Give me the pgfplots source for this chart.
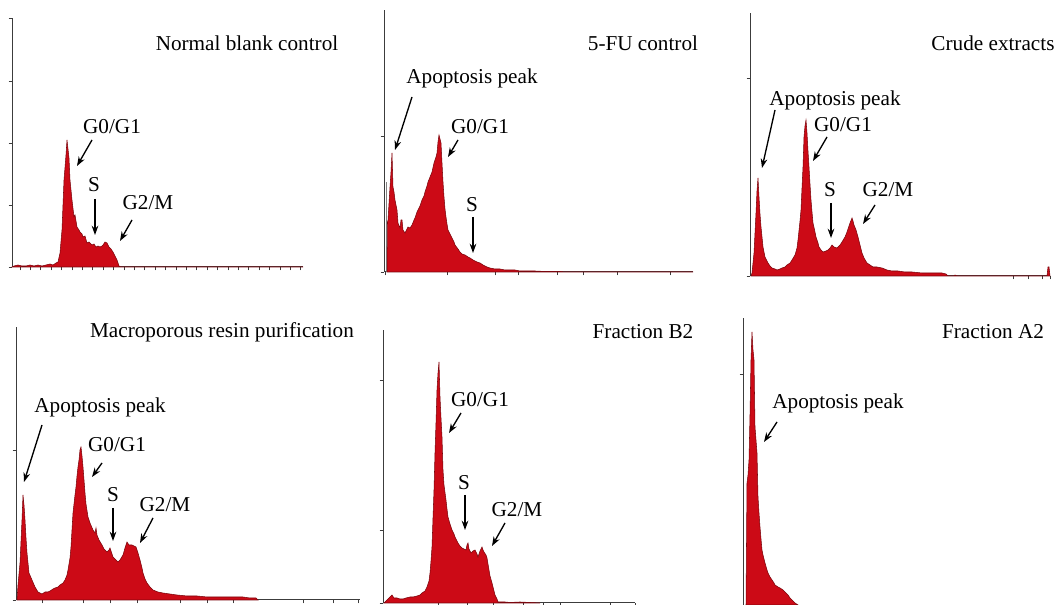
\documentclass[border=0pt]{standalone}
\usepackage{pgfplots}
\pgfplotsset{compat=1.18}
\usepackage{fontspec}
\setmainfont{Liberation Serif}
\usetikzlibrary{arrows.meta}
\definecolor{histred}{RGB}{204,10,22}
\definecolor{axgray}{RGB}{60,60,60}
\newcommand{\lab}{\fontsize{15.9}{18}\selectfont}
\pgfplotsset{
  flow/.style={
    x=0.75pt, y=0.75pt, anchor=south west,
    axis x line=bottom, axis y line=left,
    axis line style={-, draw=axgray, line width=0.75pt},
    xticklabels={}, yticklabels={},
    tick style={draw=axgray, line width=0.6pt},
    tick align=outside, major tick length=2.6pt,
    enlargelimits=false, clip=false, ymin=0,
  },
  hist/.style={fill=histred, draw=histred!60!black, line width=0.4pt, sharp plot},
}
\tikzset{arr/.style={-{Stealth[length=7pt,width=5pt]}, line width=1pt, black}}
\begin{document}
\begin{tikzpicture}[x=0.75pt,y=0.75pt]
% ---------- Panel 1: Normal blank control
\begin{axis}[flow, at={(12,338)}, xmin=12, xmax=303, ymax=249,
  ytick={0,62,124,186,249}, xtick={20,30.4,...,301}]
\addplot[hist] coordinates {(12,0)(14,1)(18,2)(22,1)(26,1)(30,2)(34,1)(38,2)(42,1)(46,2)(50,3)(53,2)(56,4)(58,5)(60,14)(62,37)(64,87)(66,112)(67,127)(68,118)(69,109)(70,87)(72,67)(74,50)(75,52)(77,40)(79,37)(80,35)(82,33)(83,30)(85,31)(87,24)(89,25)(92,22)(94,23)(96,20)(98,21)(100,20)(102,21)(103,22)(105,25)(107,24)(109,20)(111,18)(113,15)(115,11)(117,7)(119,1)(121,0)(303,0)} \closedcycle;
\node[font=\lab, anchor=east] at (axis cs:343,224) {Normal blank control};
\node[font=\lab] at (axis cs:112,140) {G0/G1};
\draw[arr] (axis cs:92,127) -- (axis cs:77,101);
\node[font=\lab] at (axis cs:94,82) {S};
\draw[arr] (axis cs:95,68) -- (axis cs:95,32);
\node[font=\lab] at (axis cs:148,64) {G2/M};
\draw[arr] (axis cs:132,47) -- (axis cs:120,26);
\end{axis}
% ---------- Panel 2: 5-FU control
\begin{axis}[flow, at={(384,333)}, xmin=384, xmax=693, ymax=262,
  ytick={0,136}, xtick={385,447,495,518,557,583,617,670}]
\addplot[draw=gray, line width=1.2pt] coordinates {(386.5,0)(386.5,90)};
\addplot[hist] coordinates {(387,0)(387.5,50)(388,52)(390,85)(391,100)(392,119)(393,85)(394,80)(395,72)(397,62)(398,49)(400,44)(401,52)(402,52)(403,42)(405,39)(406,41)(408,45)(410,44)(412,47)(414,52)(415,54)(417,60)(418,62)(420,66)(422,72)(424,76)(425,80)(427,86)(428,90)(430,95)(432,100)(434,109)(436,115)(437,119)(438,130)(439,137)(440,133)(441,129)(442,109)(443,90)(444,75)(445,63)(446,55)(447,48)(448,42)(450,38)(452,34)(454,30)(455,27)(458,23)(460,20)(462,18)(465,17)(468,15)(470,14)(473,12)(477,10)(480,9)(483,7)(487,5)(490,4)(495,3)(500,3)(505,2)(510,2)(515,2)(520,1)(527,1)(535,1)(545,0.5)(560,0.5)(565,0)(693,0)} \closedcycle;
\node[font=\lab] at (axis cs:643,229) {5-FU control};
\node[font=\lab] at (axis cs:472,194) {Apoptosis peak};
\draw[arr] (axis cs:412,175) -- (axis cs:395,122);
\node[font=\lab] at (axis cs:480,145) {G0/G1};
\draw[arr] (axis cs:458,132) -- (axis cs:448,115);
\node[font=\lab] at (axis cs:472,67) {S};
\draw[arr] (axis cs:473,55) -- (axis cs:473,19);
\end{axis}
% ---------- Panel 3: Crude extracts
\begin{axis}[flow, at={(750,329)}, xmin=750, xmax=1050, ymax=263,
  ytick={0,198}, xtick={1013,1028,1042,1050}]
\addplot[hist] coordinates {(751,0)(752,3)(754,23)(756,63)(757,85)(758,98)(759,79)(760,62)(761,49)(763,29)(765,19)(768,13)(770,10)(772,8)(775,7)(777,6)(780,7)(782,8)(785,9)(787,11)(790,13)(792,16)(795,21)(797,28)(798,36)(800,55)(801,66)(802,88)(803,109)(804,139)(805,150)(806,156)(807,143)(808,125)(809,109)(810,92)(811,76)(812,64)(813,53)(815,44)(816,39)(818,33)(819,29)(821,26)(823,24)(826,25)(828,26)(830,28)(832,31)(834,29)(837,28)(840,31)(842,34)(845,39)(847,44)(849,50)(850,53)(852,58)(853,55)(854,51)(856,46)(858,39)(860,31)(862,23)(864,18)(867,13)(870,11)(873,9)(877,9)(882,8)(887,6)(892,5)(898,5)(905,4)(912,4)(922,3)(932,3)(942,3)(946,2)(948,0)(954,0)(955,1)(957,0)(1047,0)(1048,9)(1049,9)(1050,0)} \closedcycle;
\node[font=\lab] at (axis cs:993,233) {Crude extracts};
\node[font=\lab] at (axis cs:835,176) {Apoptosis peak};
\draw[arr] (axis cs:775,166) -- (axis cs:762,108);
\node[font=\lab] at (axis cs:843,151) {G0/G1};
\draw[arr] (axis cs:827,139) -- (axis cs:813,115);
\node[font=\lab] at (axis cs:830,86) {S};
\draw[arr] (axis cs:831,73) -- (axis cs:831,38);
\node[font=\lab] at (axis cs:888,86) {G2/M};
\draw[arr] (axis cs:875,71) -- (axis cs:863,52);
\end{axis}
% ---------- Panel 4: Macroporous resin purification
\begin{axis}[flow, at={(16,5)}, xmin=16, xmax=360, ymax=273,
  ytick={0,150}, xtick={42,83,110,137,180,207,233,303,333,358}]
\addplot[hist] coordinates {(17,0)(18,15)(20,37)(22,80)(23,105)(24,95)(25,80)(26,62)(27,47)(29,27)(32,20)(35,13)(38,8)(40,7)(42,6)(45,8)(48,8)(50,9)(53,11)(55,12)(58,13)(60,15)(63,17)(65,20)(67,25)(68,30)(70,42)(71,53)(72,70)(73,87)(75,105)(76,113)(77,124)(78,133)(79,140)(80,150)(81,153)(82,144)(83,133)(84,120)(85,107)(86,96)(88,83)(90,77)(93,70)(95,67)(96,72)(97,65)(99,60)(102,55)(104,51)(107,48)(109,50)(110,52)(111,49)(113,43)(115,41)(118,38)(120,40)(123,45)(125,52)(127,58)(129,55)(132,55)(134,54)(136,53)(138,47)(140,40)(142,32)(143,27)(145,21)(147,17)(150,13)(153,10)(158,8)(163,7)(170,6)(177,5)(187,4)(197,4)(207,3)(217,3)(230,3)(243,3)(250,2)(256,2)(258,0)} \closedcycle;
\node[font=\lab] at (axis cs:222,268) {Macroporous resin purification};
\node[font=\lab] at (axis cs:100,193) {Apoptosis peak};
\draw[arr] (axis cs:42,175) -- (axis cs:24,118);
\node[font=\lab] at (axis cs:117,155) {G0/G1};
\draw[arr] (axis cs:102,137) -- (axis cs:92,123);
\node[font=\lab] at (axis cs:113,105) {S};
\draw[arr] (axis cs:113,92) -- (axis cs:113,59);
\node[font=\lab] at (axis cs:165,95) {G2/M};
\draw[arr] (axis cs:153,82) -- (axis cs:140,57);
\end{axis}
% ---------- Panel 5: Fraction B2
\begin{axis}[flow, at={(383,2)}, xmin=383, xmax=635, ymax=273,
  ytick={0,73,223}, xtick={438,467,493,523,543,560,610,635}]
\addplot[hist] coordinates {(384,0)(387,3)(390,6)(392,8)(394,5)(397,5)(400,4)(403,4)(406,5)(410,6)(413,6)(417,7)(420,8)(422,10)(425,12)(427,16)(429,22)(430,30)(431,42)(432,56)(433,85)(434,113)(435,150)(436,180)(437,213)(438,230)(439,241)(440,206)(441,185)(442,166)(443,133)(444,118)(446,103)(447,94)(448,86)(450,79)(452,73)(454,69)(455,66)(457,62)(458,60)(460,57)(462,55)(464,54)(466,53)(467,58)(468,60)(469,54)(471,50)(473,52)(475,53)(477,49)(478,46)(480,52)(482,56)(483,53)(484,51)(486,48)(487,45)(488,39)(489,33)(490,27)(492,20)(494,12)(495,8)(497,4)(498,1)(500,1)(505,1)(510,0.5)(520,1)(530,0.5)(540,0)} \closedcycle;
\node[font=\lab] at (axis cs:643,271) {Fraction B2};
\node[font=\lab] at (axis cs:480,203) {G0/G1};
\draw[arr] (axis cs:461,190) -- (axis cs:449,170);
\node[font=\lab] at (axis cs:464,120) {S};
\draw[arr] (axis cs:465,108) -- (axis cs:465,73);
\node[font=\lab] at (axis cs:517,93) {G2/M};
\draw[arr] (axis cs:505,80) -- (axis cs:492,57);
\end{axis}
% ---------- Panel 6: Fraction A2
\begin{axis}[flow, at={(743,0)}, xmin=743, xmax=1050, ymax=287,
  ytick={231}, xtick=\empty, x axis line style={draw=none}]
\addplot[hist] coordinates {(746,0)(747,122)(748,130)(749,145)(750,190)(751,245)(752,273)(753,255)(754,245)(755,178)(756,165)(757,152)(758,108)(759,92)(760,78)(761,66)(762,55)(763,50)(765,42)(767,35)(768,32)(770,28)(772,25)(774,22)(775,20)(778,18)(780,17)(783,15)(785,13)(788,10)(790,7)(793,4)(795,2)(798,0)} \closedcycle;
\node[font=\lab] at (axis cs:993,273) {Fraction A2};
\node[font=\lab] at (axis cs:838,202) {Apoptosis peak};
\draw[arr] (axis cs:777,183) -- (axis cs:764,163);
\end{axis}
\pgfresetboundingbox
\useasboundingbox (0,0) rectangle (1057,605);
\end{tikzpicture}
\end{document}
